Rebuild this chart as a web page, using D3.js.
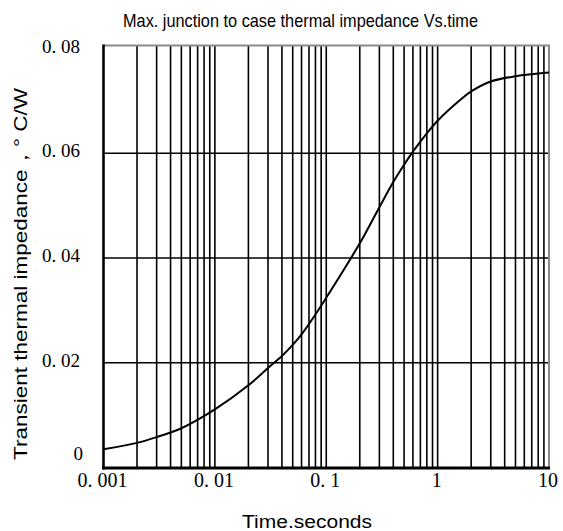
<!DOCTYPE html>
<html>
<head>
<meta charset="utf-8">
<script src="https://cdn.jsdelivr.net/npm/d3@7"></script>
<style>
  html, body { margin: 0; padding: 0; background: #fff; }
  svg { display: block; }
</style>
</head>
<body>
<svg id="chart" width="563" height="531"></svg>
<script>
// ---- data ----
const times = [0.001, 0.002, 0.003, 0.005, 0.01, 0.02, 0.03, 0.04, 0.05, 0.06, 0.08, 0.1, 0.2, 0.3, 0.4, 0.5, 0.6, 0.8, 1, 1.6, 2, 3, 5, 10];
const zth = [0.0035, 0.0047, 0.0058, 0.0075, 0.0111, 0.0157, 0.0190, 0.0213, 0.0234, 0.0254, 0.0292, 0.0324, 0.0428, 0.0497, 0.0545, 0.0578, 0.0603, 0.0638, 0.0662, 0.0702, 0.0718, 0.0737, 0.0747, 0.0754];
const xTickValues = [0.001, 0.01, 0.1, 1, 10];
const xTickLabels = ["0. 001", "0. 01", "0. 1", "1", "10"];
const yTickValues = [0, 0.02, 0.04, 0.06, 0.08];
const yTickLabels = ["0", "0. 02", "0. 04", "0. 06", "0. 08"];
const titleText = "Max. junction to case thermal impedance Vs.time";
const xTitle = "Time.seconds";
const yTitle = "Transient thermal impedance\uFF0C\u00B0  C/W";

// ---- layout ----
const svg = d3.select("#chart");
const x = d3.scaleLog().domain([0.001, 10]).range([103.5, 549]);
const y = d3.scaleLinear().domain([0, 0.08]).range([467.5, 48.5]);
const frameTop = 45.5, frameBottom = 468;

// minor + major vertical grid lines
const vLines = [];
for (let e = -3; e < 1; e++) {
  for (let m = 1; m <= 9; m++) vLines.push(m * Math.pow(10, e));
}

const grid = svg.append("g");
grid.selectAll("line.v").data(vLines.filter(v => v > 0.001 && v < 10)).enter()
  .append("line")
  .attr("x1", d => x(d)).attr("x2", d => x(d))
  .attr("y1", frameTop).attr("y2", frameBottom)
  .attr("stroke", "#000").attr("stroke-width", 1.6);

grid.selectAll("line.h").data(yTickValues.filter(v => v > 0 && v < 0.08)).enter()
  .append("line")
  .attr("x1", x(0.001)).attr("x2", x(10))
  .attr("y1", d => y(d)).attr("y2", d => y(d))
  .attr("stroke", "#000").attr("stroke-width", 1.6);

// frame: top and right gray, left and bottom black
svg.append("line").attr("x1", x(0.001)).attr("x2", x(10) + 1).attr("y1", frameTop).attr("y2", frameTop)
  .attr("stroke", "#8a8a8a").attr("stroke-width", 2);
svg.append("line").attr("x1", x(10)).attr("x2", x(10)).attr("y1", frameTop).attr("y2", frameBottom)
  .attr("stroke", "#8a8a8a").attr("stroke-width", 2);
svg.append("line").attr("x1", x(0.001)).attr("x2", x(0.001)).attr("y1", frameTop - 1).attr("y2", frameBottom + 1.5)
  .attr("stroke", "#000").attr("stroke-width", 2.6);
svg.append("line").attr("x1", x(0.001) - 1.3).attr("x2", x(10) + 1).attr("y1", frameBottom).attr("y2", frameBottom)
  .attr("stroke", "#000").attr("stroke-width", 3);

// curve
const pts = times.map((t, i) => [t, zth[i]]);
const line = d3.line().x(d => x(d[0])).y(d => y(d[1])).curve(d3.curveCatmullRom.alpha(0.5));
svg.append("path").attr("d", line(pts))
  .attr("fill", "none").attr("stroke", "#000").attr("stroke-width", 2);

// x tick labels
svg.append("g").selectAll("text").data(xTickValues).enter()
  .append("text")
  .attr("x", d => x(d) - 1)
  .attr("y", 487)
  .attr("text-anchor", "middle")
  .attr("font-family", "'Liberation Serif', 'DejaVu Serif', serif")
  .attr("font-size", 20)
  .attr("fill", "#000")
  .text((d, i) => xTickLabels[i]);

// y tick labels
svg.append("g").selectAll("text").data(yTickValues).enter()
  .append("text")
  .attr("x", d => d === 0 ? 83 : 80)
  .attr("y", d => d === 0 ? 460 : y(d) + 4)
  .attr("text-anchor", "end")
  .attr("font-family", "'Liberation Serif', 'DejaVu Serif', serif")
  .attr("font-size", 19)
  .attr("fill", "#000")
  .text((d, i) => yTickLabels[i]);

// title
svg.append("text")
  .attr("x", 300.5).attr("y", 27)
  .attr("text-anchor", "middle")
  .attr("font-family", "'Liberation Sans', Arial, sans-serif")
  .attr("font-size", 18.5)
  .attr("textLength", 355).attr("lengthAdjust", "spacingAndGlyphs")
  .attr("fill", "#000")
  .text(titleText);

// x title
svg.append("text")
  .attr("x", 307).attr("y", 528)
  .attr("text-anchor", "middle")
  .attr("font-family", "'Liberation Sans', Arial, sans-serif")
  .attr("font-size", 17.5)
  .attr("textLength", 130).attr("lengthAdjust", "spacingAndGlyphs")
  .attr("fill", "#000")
  .text(xTitle);

// y title
svg.append("text")
  .attr("transform", "translate(27,274) rotate(-90)")
  .attr("text-anchor", "middle")
  .attr("font-family", "'Liberation Sans', Arial, sans-serif")
  .attr("font-size", 18)
  .attr("textLength", 372).attr("lengthAdjust", "spacingAndGlyphs")
  .attr("fill", "#000")
  .text(yTitle);
</script>
</body>
</html>
